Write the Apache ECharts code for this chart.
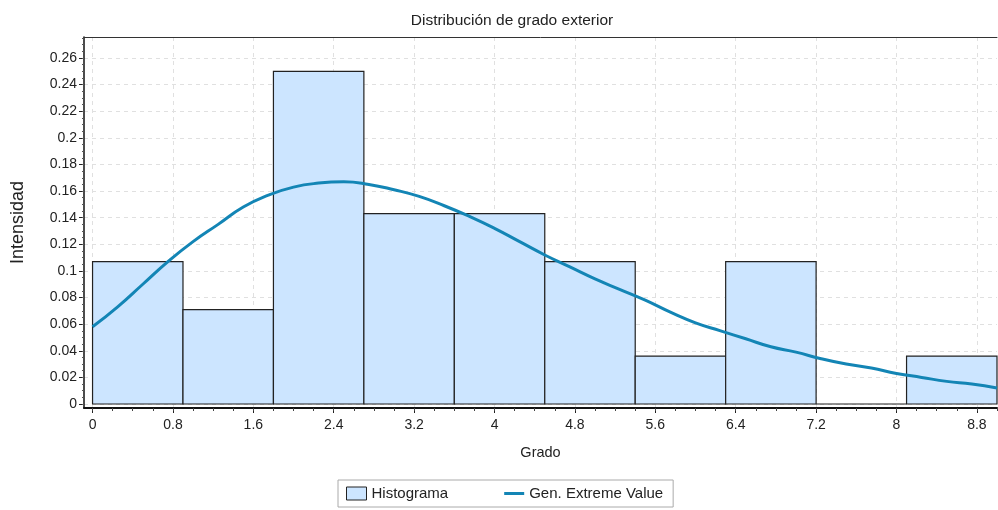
<!DOCTYPE html>
<html>
<head>
<meta charset="utf-8">
<script src="https://cdn.jsdelivr.net/npm/echarts@6/dist/echarts.min.js"></script>
<style>
  html, body { margin: 0; padding: 0; background: #fff; }
  #chart { width: 998px; height: 510px; }
</style>
</head>
<body>
<div id="chart"></div>
<script>
// histograma: bordes de las clases y densidad de cada clase
var binEdges = [0, 0.9, 1.8, 2.7, 3.6, 4.5, 5.4, 6.3, 7.2, 8.1, 9.0];
var binDensity = [0.107, 0.071, 0.25, 0.143, 0.143, 0.107, 0.036, 0.107, 0, 0.036];

// curva Gen. Extreme Value
var curveX = [0, 0.25, 0.5, 0.75, 1, 1.25, 1.5, 1.75, 2, 2.25, 2.5, 2.75, 3, 3.25, 3.5, 3.75,
  4, 4.25, 4.5, 4.75, 5, 5.25, 5.5, 5.75, 6, 6.25, 6.5, 6.75, 7, 7.25, 7.5, 7.75, 8, 8.25, 8.5, 8.75, 9];
var curveY = [0.058, 0.073, 0.090, 0.107, 0.122, 0.135, 0.148, 0.157, 0.163, 0.166, 0.167, 0.165,
  0.161, 0.156, 0.149, 0.141, 0.132, 0.122, 0.112, 0.103, 0.094, 0.086, 0.078, 0.069, 0.061,
  0.055, 0.049, 0.043, 0.039, 0.034, 0.030, 0.027, 0.023, 0.020, 0.017, 0.015, 0.012];

// etiquetas de los ejes
var xTickLabels = [0, 0.8, 1.6, 2.4, 3.2, 4, 4.8, 5.6, 6.4, 7.2, 8, 8.8];
var yTickLabels = [0, 0.02, 0.04, 0.06, 0.08, 0.1, 0.12, 0.14, 0.16, 0.18, 0.2, 0.22, 0.24, 0.26];

var FONT = 'Liberation Sans, Arial, sans-serif';

// marcas menores
var xMinor = [];
for (var i = 0; i <= 45; i++) xMinor.push(Math.round(i * 2) / 10);
var yMinor = [];
for (var j = 0; j <= 55; j++) yMinor.push(Math.round(j * 5) / 1000);

var histData = [];
for (var k = 0; k < binDensity.length; k++) {
  histData.push([binEdges[k], binEdges[k + 1], binDensity[k]]);
}
var curveData = curveX.map(function (x, i) { return [x, curveY[i]]; });

var myChart = echarts.init(document.getElementById('chart'));
var option = {
  backgroundColor: '#fff',
  animation: false,
  textStyle: { fontFamily: FONT },
  title: {
    text: 'Distribución de grado exterior',
    left: 507,
    top: 8,
    textAlign: 'center',
    textStyle: { fontFamily: FONT, fontSize: 15.5, fontWeight: 'normal', color: '#222' }
  },
  grid: {
    left: 84, top: 37, right: 1, bottom: 102,
    show: true, borderWidth: 0, backgroundColor: '#fff'
  },
  legend: {
    left: 338, bottom: 3,
    padding: [6, 10, 6, 8],
    itemGap: 56,
    itemWidth: 20, itemHeight: 13,
    borderColor: '#aaa', borderWidth: 1,
    textStyle: { fontFamily: FONT, fontSize: 15, color: '#222' },
    data: [
      { name: 'Histograma', icon: 'rect', itemStyle: { color: '#cce5ff', borderColor: '#222', borderWidth: 1 } },
      { name: 'Gen. Extreme Value', icon: 'path://M0,0 M0,13 M0,5h20v3h-20z', itemStyle: { color: '#1385b5' } }
    ]
  },
  xAxis: [
    {
      type: 'value', min: -0.085, max: 9,
      name: 'Grado', nameLocation: 'middle', nameGap: 37,
      nameTextStyle: { fontFamily: FONT, fontSize: 14.5, color: '#222' },
      axisLine: { show: true, onZero: false, lineStyle: { color: '#111', width: 2 } },
      axisTick: { show: true, length: 5, customValues: xTickLabels, lineStyle: { color: '#222' } },
      axisLabel: { customValues: xTickLabels, margin: 10, fontFamily: FONT, fontSize: 14, color: '#222' },
      splitLine: { show: true, lineStyle: { color: '#e0e0e0', type: [4, 4] } }
    },
    {
      type: 'value', min: -0.085, max: 9, position: 'bottom',
      axisLine: { show: false, onZero: false },
      axisTick: { show: true, length: 3, customValues: xMinor, lineStyle: { color: '#444' } },
      axisLabel: { show: false },
      splitLine: { show: false }
    },
    {
      type: 'value', min: -0.085, max: 9, position: 'top',
      axisLine: { show: true, onZero: false, lineStyle: { color: '#333', width: 1 } },
      axisTick: { show: false },
      axisLabel: { show: false },
      splitLine: { show: false }
    }
  ],
  yAxis: [
    {
      type: 'value', min: -0.003, max: 0.2758,
      name: 'Intensidad', nameLocation: 'middle', nameGap: 57,
      nameTextStyle: { fontFamily: FONT, fontSize: 18, color: '#222' },
      axisLine: { show: true, onZero: false, lineStyle: { color: '#111', width: 1.5 } },
      axisTick: { show: true, length: 5, customValues: yTickLabels, lineStyle: { color: '#222' } },
      axisLabel: { customValues: yTickLabels, margin: 7, fontFamily: FONT, fontSize: 14, color: '#222' },
      splitLine: { show: true, lineStyle: { color: '#e0e0e0', type: [4, 4] } }
    },
    {
      type: 'value', min: -0.003, max: 0.2758, position: 'left',
      axisLine: { show: false, onZero: false },
      axisTick: { show: true, length: 2, customValues: yMinor, lineStyle: { color: '#555' } },
      axisLabel: { show: false },
      splitLine: { show: false }
    }
  ],
  series: [
    {
      name: 'Histograma',
      type: 'custom',
      itemStyle: { color: '#cce5ff', borderColor: '#222', borderWidth: 1.2 },
      encode: { x: [0, 1], y: 2 },
      renderItem: function (params, api) {
        var p0 = api.coord([api.value(0), api.value(2)]);
        var p1 = api.coord([api.value(1), 0]);
        return {
          type: 'rect',
          shape: { x: p0[0], y: p0[1], width: p1[0] - p0[0], height: p1[1] - p0[1] },
          style: { fill: '#cce5ff', stroke: '#222', lineWidth: 1.2 }
        };
      },
      data: histData,
      z: 2
    },
    {
      name: 'Gen. Extreme Value',
      type: 'line',
      smooth: true,
      symbol: 'none',
      color: '#1385b5',
      lineStyle: { color: '#1385b5', width: 3 },
      data: curveData,
      z: 3
    }
  ]
};
myChart.setOption(option);
</script>
</body>
</html>
